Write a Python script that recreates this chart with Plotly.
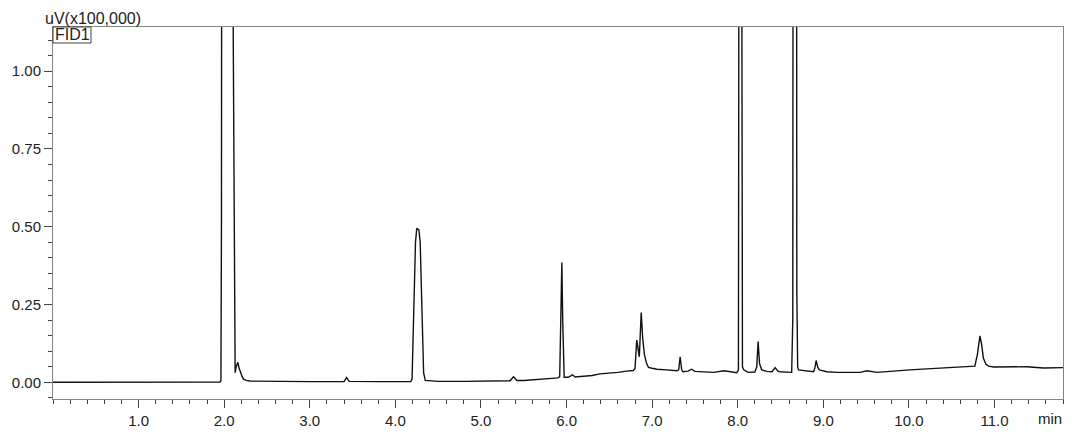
import plotly.graph_objects as go

# Chromatogram (time in min, signal in uV x100,000)
time_min = [
    0.00, 0.30, 0.60, 0.90, 1.20, 1.50, 1.80, 1.95, 1.962, 1.968, 1.975,
    2.095, 2.102, 2.118, 2.128, 2.14, 2.16, 2.175, 2.187, 2.21, 2.226, 2.26, 2.30,
    2.50, 2.65, 3.00, 3.30, 3.40, 3.43, 3.46, 3.80, 4.10, 4.18, 4.195, 4.215,
    4.235, 4.25, 4.275, 4.29, 4.31, 4.33, 4.35, 4.50, 4.80, 5.00, 5.20, 5.34,
    5.38, 5.42, 5.50, 5.65, 5.80, 5.90, 5.92, 5.935, 5.945, 5.955, 5.972, 6.02,
    6.07, 6.10, 6.20, 6.30, 6.39, 6.50, 6.60, 6.70, 6.78, 6.80, 6.82, 6.85,
    6.872, 6.89, 6.91, 6.935, 6.957, 7.00, 7.055, 7.17, 7.29, 7.31, 7.327, 7.345,
    7.36, 7.42, 7.46, 7.50, 7.56, 7.72, 7.84, 7.99, 8.008, 8.014, 8.02, 8.038,
    8.045, 8.055, 8.07, 8.12, 8.20, 8.222, 8.238, 8.255, 8.28, 8.34, 8.40, 8.437,
    8.47, 8.495, 8.63, 8.643, 8.65, 8.685, 8.69, 8.70, 8.71, 8.81, 8.885, 8.90,
    8.916, 8.935, 8.955, 9.04, 9.16, 9.43, 9.51, 9.625, 9.82, 10.01, 10.21, 10.40,
    10.60, 10.77, 10.80, 10.83, 10.85, 10.87, 10.90, 10.93, 10.99, 11.18, 11.38,
    11.57, 11.80,
]
signal = [
    0.000, 0.000, 0.001, 0.000, 0.001, 0.001, 0.001, 0.001, 0.005, 0.5, 3.0,
    3.0, 1.3, 0.15, 0.031, 0.05, 0.064, 0.045, 0.034, 0.018, 0.010, 0.006, 0.004,
    0.003, 0.002, 0.002, 0.002, 0.002, 0.015, 0.003, 0.002, 0.002, 0.002, 0.010, 0.20,
    0.45, 0.495, 0.49, 0.45, 0.20, 0.03, 0.006, 0.003, 0.003, 0.004, 0.004, 0.005,
    0.018, 0.006, 0.006, 0.009, 0.011, 0.014, 0.018, 0.20, 0.385, 0.20, 0.016, 0.016,
    0.024, 0.017, 0.019, 0.022, 0.027, 0.029, 0.032, 0.036, 0.038, 0.045, 0.136, 0.082,
    0.224, 0.14, 0.088, 0.060, 0.048, 0.045, 0.042, 0.040, 0.037, 0.040, 0.082, 0.040,
    0.034, 0.036, 0.042, 0.035, 0.034, 0.032, 0.037, 0.031, 0.040, 1.0, 3.0, 3.0,
    1.0, 0.05, 0.040, 0.032, 0.033, 0.050, 0.131, 0.060, 0.040, 0.035, 0.034, 0.047,
    0.036, 0.034, 0.032, 0.20, 3.0, 3.0, 0.30, 0.05, 0.040, 0.037, 0.034, 0.045,
    0.070, 0.048, 0.040, 0.034, 0.032, 0.032, 0.037, 0.032, 0.037, 0.040, 0.043, 0.046,
    0.050, 0.052, 0.090, 0.149, 0.120, 0.077, 0.058, 0.052, 0.049, 0.049, 0.050,
    0.046, 0.047,
]

x_tick_vals = [1, 2, 3, 4, 5, 6, 7, 8, 9, 10, 11]
x_tick_text = ["1.0", "2.0", "3.0", "4.0", "5.0", "6.0", "7.0", "8.0", "9.0", "10.0", "11.0"]
y_tick_vals = [0.0, 0.25, 0.5, 0.75, 1.0]
y_tick_text = ["0.00", "0.25", "0.50", "0.75", "1.00"]

FONT = "Liberation Sans, Arial, sans-serif"
AXIS_COLOR = "#858585"
TICK_COLOR = "#444444"
TEXT_COLOR = "#222222"

# The page body has an 8px margin, so the figure is drawn 8px right and down.
OFF = 8
W, H = 1080 - OFF, 433 - OFF
# Target plot area in window pixels: x 53..1063, y 27..399
L = 53 - OFF
R = W - (1063 - OFF)
T = 27 - OFF
B = H - (399 - OFF)

fig = go.Figure()
fig.add_trace(go.Scatter(
    x=time_min, y=signal, mode="lines",
    line=dict(color="#111111", width=1.4),
    showlegend=False, hoverinfo="skip",
))

fig.update_layout(
    width=W, height=H,
    margin=dict(l=L, r=R, t=T, b=B, autoexpand=False),
    paper_bgcolor="white", plot_bgcolor="white",
    font=dict(family=FONT, size=15, color=TEXT_COLOR),
    xaxis=dict(
        range=[0, 11.80], showgrid=False, zeroline=False,
        showline=True, linecolor=AXIS_COLOR, linewidth=1, mirror=True,
        tickmode="array", tickvals=x_tick_vals, ticktext=x_tick_text,
        ticks="outside", ticklen=8, tickcolor=TICK_COLOR, tickwidth=1,
        minor=dict(ticks="outside", ticklen=4, dtick=0.2, tick0=0,
                   tickcolor=TICK_COLOR, tickwidth=1, showgrid=False),
        tickfont=dict(family=FONT, size=15, color=TEXT_COLOR),
        automargin=False,
    ),
    yaxis=dict(
        range=[-0.0537, 1.142], showgrid=False, zeroline=False,
        showline=True, linecolor=AXIS_COLOR, linewidth=1, mirror=True,
        tickmode="array", tickvals=y_tick_vals, ticktext=y_tick_text,
        ticks="outside", ticklen=8, tickcolor=TICK_COLOR, tickwidth=1,
        minor=dict(ticks="outside", ticklen=4, dtick=0.05, tick0=0,
                   tickcolor=TICK_COLOR, tickwidth=1, showgrid=False),
        tickfont=dict(family=FONT, size=15, color=TEXT_COLOR),
        automargin=False,
    ),
)

pw = W - L - R
ph = H - T - B


def px_x(px):
    """window pixel x -> paper x"""
    return (px - OFF - L) / pw


def px_y(py):
    """window pixel y -> paper y"""
    return (H - B - (py - OFF)) / ph


fig.add_annotation(
    text="uV(x100,000)", xref="paper", yref="paper",
    x=px_x(43), y=px_y(18), xanchor="left", yanchor="middle",
    showarrow=False, font=dict(family=FONT, size=16, color=TEXT_COLOR),
)
fig.add_shape(
    type="rect", xref="paper", yref="paper",
    x0=0, x1=px_x(91), y0=px_y(43), y1=1,
    line=dict(color="#444444", width=1), fillcolor="rgba(0,0,0,0)",
)
fig.add_annotation(
    text="FID1", xref="paper", yref="paper",
    x=px_x(72), y=px_y(35), xanchor="center", yanchor="middle",
    showarrow=False, font=dict(family=FONT, size=16, color=TEXT_COLOR),
)
fig.add_annotation(
    text="min", xref="paper", yref="paper",
    x=px_x(1050), y=px_y(418), xanchor="center", yanchor="middle",
    showarrow=False, font=dict(family=FONT, size=15, color=TEXT_COLOR),
)

fig.write_html("out.html")
